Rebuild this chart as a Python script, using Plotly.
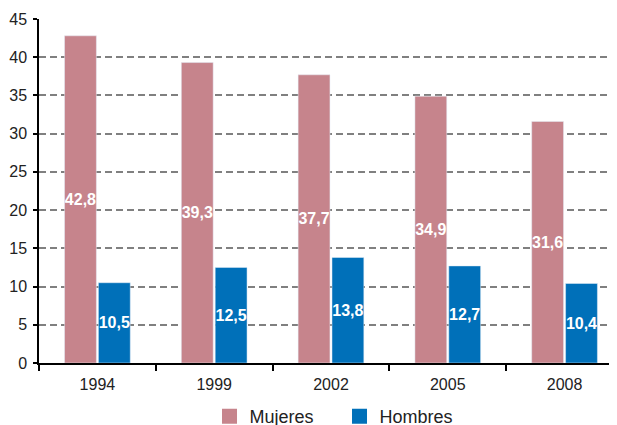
import plotly.graph_objects as go

years = ["1994", "1999", "2002", "2005", "2008"]
mujeres = [42.8, 39.3, 37.7, 34.9, 31.6]
hombres = [10.5, 12.5, 13.8, 12.7, 10.4]
y_ticks = [0, 5, 10, 15, 20, 25, 30, 35, 40, 45]
series_names = ["Mujeres", "Hombres"]
series_colors = ["#c6848c", "#0070b9"]

def fmt(v):
    return f"{v:.1f}".replace(".", ",")

lbl_font = dict(color="white", size=16, family="Liberation Sans", weight="bold")

fig = go.Figure()
for name, vals, col in zip(series_names, [mujeres, hombres], series_colors):
    fig.add_trace(go.Bar(
        x=years, y=vals, name=name, marker_color=col, showlegend=False,
        text=[fmt(v) for v in vals], textposition="inside", insidetextanchor="middle",
        textfont=lbl_font, textangle=0, constraintext="none", cliponaxis=False,
    ))
# legend entries with larger square symbols
for name, col in zip(series_names, series_colors):
    fig.add_trace(go.Scatter(
        x=[None], y=[None], mode="markers", name=name,
        marker=dict(symbol="square", size=15, color=col),
    ))

# page body has an 8px margin, so the figure is offset by 8px
fig.update_layout(
    width=609, height=417,
    margin=dict(l=31, r=0, t=11, b=62, autoexpand=False),
    plot_bgcolor="white", paper_bgcolor="white",
    barmode="group", bargap=0.42, bargroupgap=0.06,
    font=dict(family="Liberation Sans", size=16, color="#222"),
    showlegend=True,
    legend=dict(orientation="h", x=0.295, xanchor="left", y=-0.102, yanchor="top",
                font=dict(size=18, color="#222"), itemwidth=30, entrywidth=85,
                traceorder="normal"),
)
fig.update_xaxes(
    automargin=False, range=[-0.5, 4.449],
    showline=True, linecolor="black", linewidth=1.5,
    ticks="outside", tickson="boundaries", ticklen=6, tickcolor="black", tickwidth=1.5,
    showgrid=False, tickfont=dict(size=16, color="#222"), ticklabelstandoff=6,
)
fig.update_yaxes(
    automargin=False,
    range=[0, 45], tickvals=y_ticks, showline=True, linecolor="black", linewidth=1.5,
    ticks="outside", ticklen=4, tickcolor="black", tickwidth=1.5,
    showgrid=True, gridcolor="#808080", gridwidth=1.5, griddash="7px,4px",
    zeroline=False, tickfont=dict(size=16, color="#222"), ticklabelstandoff=3,
)

fig.write_html("out.html")
